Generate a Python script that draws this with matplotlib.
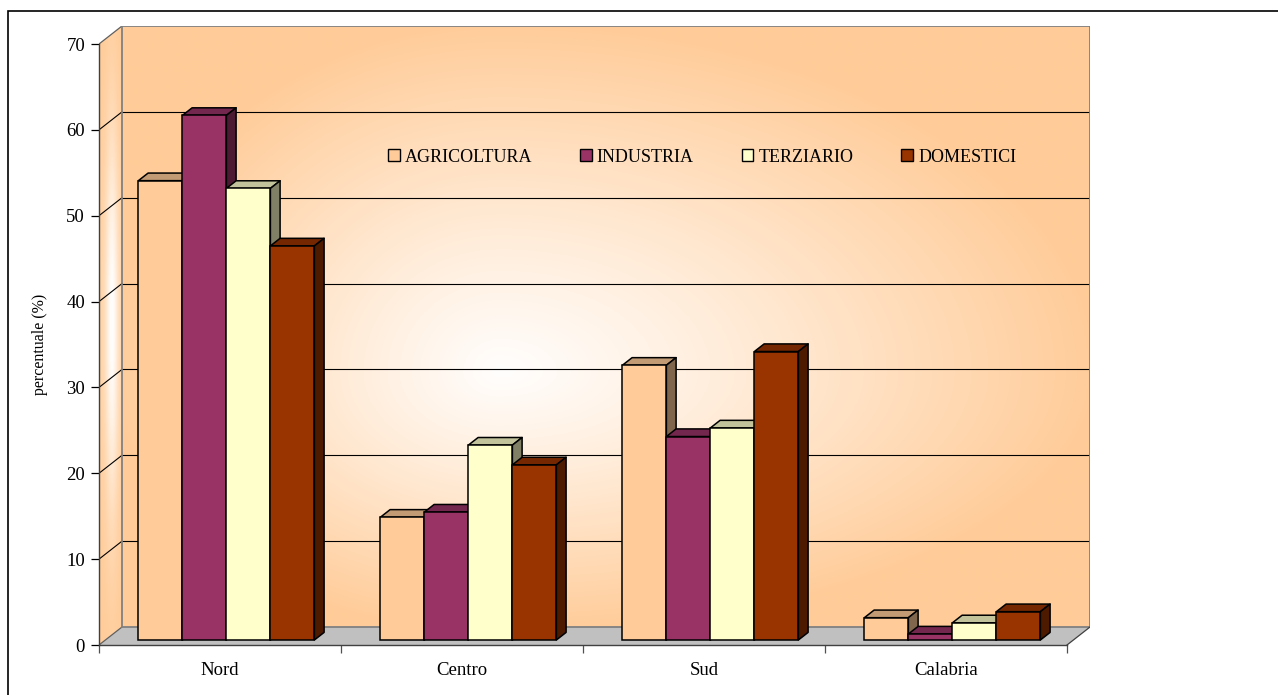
import numpy as np
import matplotlib
matplotlib.use("Agg")
import matplotlib.pyplot as plt
from matplotlib.patches import Polygon, Rectangle, Patch
from matplotlib.collections import PolyCollection

# ---------------- data ----------------
categories = ["Nord", "Centro", "Sud", "Calabria"]
series_names = ["AGRICOLTURA", "INDUSTRIA", "TERZIARIO", "DOMESTICI"]
agricoltura = [53.5, 14.3, 32.0, 2.6]
industria = [61.1, 14.9, 23.7, 0.7]
terziario = [52.6, 22.7, 24.7, 2.0]
domestici = [45.9, 20.4, 33.6, 3.3]
y_ticks = [0, 10, 20, 30, 40, 50, 60, 70]
y_label = "percentuale (%)"

series_values = [agricoltura, industria, terziario, domestici]
face_colors = ["#FFCC99", "#993366", "#FFFFCC", "#993300"]

plt.rcParams['font.family'] = ['Liberation Serif', 'DejaVu Serif']

W, H = 1278, 695
fig = plt.figure(figsize=(W / 100, H / 100), dpi=100)

# geometry (pixels)
PX_X = 242.0           # pixels per category
PX_Y = 601.0 / 70.0    # pixels per percent
DEP_X, DEP_Y = 23.0, 18.0   # depth of the 3D box in pixels
DX = DEP_X / PX_X
DY = DEP_Y / PX_Y
YMAX = 70
NC = len(categories)

left_px, bottom_px = 99, 645
ax_w = PX_X * (NC + DX)
ax_h = PX_Y * (YMAX + DY)
ax = fig.add_axes([left_px / W, (H - bottom_px) / H, ax_w / W, ax_h / H])
ax.set_xlim(0, NC + DX)
ax.set_ylim(0, YMAX + DY)
ax.patch.set_visible(False)

peach = np.array([1.0, 0.8, 0.6])
white = np.array([1.0, 0.995, 0.99])

def to_px(u, v):
    return left_px + u * PX_X, bottom_px - v * PX_Y

# ---- back wall gradient ----
nu, nv = 400, 300
uu = np.linspace(DX, NC + DX, nu)
vv = np.linspace(DY, YMAX + DY, nv)
U, V = np.meshgrid(uu, vv)
PXg, PYg = to_px(U, V)
cx, cy = 500.0, 372.0
rx = np.where(PXg < cx, 390.0, 600.0)
ry = np.where(PYg < cy, 350.0, 262.0)
t = np.sqrt(((PXg - cx) / rx) ** 2 + ((PYg - cy) / ry) ** 2)
s = np.clip(t, 0, 1) ** 1.1
img = white[None, None, :] * (1 - s[..., None]) + peach[None, None, :] * s[..., None]
ax.imshow(img, extent=(DX, NC + DX, DY, YMAX + DY), origin='lower',
          aspect='auto', zorder=0.5, interpolation='bilinear')

# ---- side wall gradient ----
su = np.linspace(0, DX, 60)
sv = np.linspace(0, YMAX + DY, 300)
SU, SV = np.meshgrid(su, sv)
SPX, SPY = to_px(SU, SV)
g = np.exp(-((SPX - 112.0) / 6.5) ** 2)
f = np.exp(-((SPY - 320.0) / 190.0) ** 2)
wgt = np.clip(0.9 * g * f + 0.12 * f, 0, 1)
simg = peach[None, None, :] * (1 - wgt[..., None]) + white[None, None, :] * wgt[..., None]
side_img = ax.imshow(simg, extent=(0, DX, 0, YMAX + DY), origin='lower',
                     aspect='auto', zorder=0.5, interpolation='bilinear')
side_poly = Polygon([(0, 0), (DX, DY), (DX, YMAX + DY), (0, YMAX)], closed=True,
                    facecolor='none', edgecolor='none', transform=ax.transData)
ax.add_patch(side_poly)
side_img.set_clip_path(side_poly)

# ---- floor ----
floor = Polygon([(0, 0), (NC, 0), (NC + DX, DY), (DX, DY)], closed=True,
                facecolor='#C0C0C0', edgecolor='none', zorder=0.8)
ax.add_patch(floor)
ax.plot([NC, NC + DX], [0, DY], color='#404040', lw=0.9, zorder=1.6)

# ---- gridlines ----
for yv in y_ticks[1:-1]:
    ax.plot([DX, NC + DX], [yv + DY, yv + DY], color='black', lw=0.8, zorder=1.5)
    ax.plot([0, DX], [yv, yv + DY], color='black', lw=0.8, zorder=1.5)
ax.plot([0, DX], [YMAX, YMAX + DY], color='#606060', lw=0.9, zorder=1.5)
ax.plot([0, DX], [0, DY], color='#606060', lw=0.9, zorder=1.5)

# back wall border
ax.add_patch(Rectangle((DX, DY), NC, YMAX, facecolor='none', edgecolor='#808080',
                       lw=1.3, zorder=1.55))

# ---- bars ----
bw = 44.0 / PX_X
d0 = 5.0 / DEP_Y
dd = 7.6 / DEP_Y
x0s = np.arange(NC) + 0.5 - 2 * bw + d0 * DX
y0 = d0 * DY

def shade(hexcol, k):
    c = np.array(matplotlib.colors.to_rgb(hexcol))
    return tuple(c * k)

for j, (vals, col) in enumerate(zip(series_values, face_colors)):
    xs = x0s + j * bw
    ax.bar(xs, vals, width=bw, bottom=y0, align='edge', color=col,
           edgecolor='black', linewidth=1.1, zorder=3)
    tops, sides = [], []
    for x, h in zip(xs, vals):
        yt = y0 + h
        tops.append([(x, yt), (x + bw, yt), (x + bw + dd * DX, yt + dd * DY),
                     (x + dd * DX, yt + dd * DY)])
        sides.append([(x + bw, y0), (x + bw, yt), (x + bw + dd * DX, yt + dd * DY),
                      (x + bw + dd * DX, y0 + dd * DY)])
    ax.add_collection(PolyCollection(tops, facecolors=[shade(col, 0.76)],
                                     edgecolors='black', linewidths=1.1,
                                     zorder=2 + 0.01 * j))
    ax.add_collection(PolyCollection(sides, facecolors=[shade(col, 0.5)],
                                     edgecolors='black', linewidths=1.1,
                                     zorder=2 + 0.01 * j))

# ---- axes / ticks ----
for sp in ['top', 'right']:
    ax.spines[sp].set_visible(False)
ax.spines['left'].set_bounds(0, YMAX)
ax.spines['bottom'].set_bounds(0, NC)
ax.spines['left'].set_color('#404040')
ax.spines['bottom'].set_color('#404040')
ax.spines['left'].set_linewidth(1.0)
ax.spines['bottom'].set_linewidth(1.0)
ax.spines['left'].set_zorder(4)
ax.spines['bottom'].set_zorder(4)

ax.set_yticks(y_ticks)
ax.set_yticklabels([str(v) for v in y_ticks])
ax.tick_params(axis='y', direction='out', length=6, width=0.9, color='black',
               labelsize=13.5, pad=4)
ax.set_xticks(np.arange(NC + 1))
ax.set_xticklabels([''] * (NC + 1))
ax.tick_params(axis='x', which='major', direction='out', length=5.5, width=0.9,
               color='#505050')
ax.set_xticks(np.arange(NC) + 0.5, minor=True)
ax.set_xticklabels(categories, minor=True)
ax.tick_params(axis='x', which='minor', length=0, labelsize=13.5, pad=12)

fig.text(40 / W, 1 - 344 / H, y_label, rotation=90, ha='center', va='center',
         fontsize=11.5)

# ---- legend ----
handles = [Patch(facecolor=c, edgecolor='black', linewidth=1.0) for c in face_colors]
fig.legend(handles, series_names, loc='center', bbox_to_anchor=(702 / W, 1 - 157 / H),
           ncol=4, frameon=False, fontsize=13, handlelength=0.65, handleheight=0.65,
           handletextpad=0.28, columnspacing=2.65, borderaxespad=0, borderpad=0)

# outer frame
fig.add_artist(Rectangle((8 / W, -0.2), 1.3, 1.2 - 10.5 / H, transform=fig.transFigure,
                         facecolor='none', edgecolor='black', lw=1.2, clip_on=False))

fig.savefig("out.png", dpi=100)
